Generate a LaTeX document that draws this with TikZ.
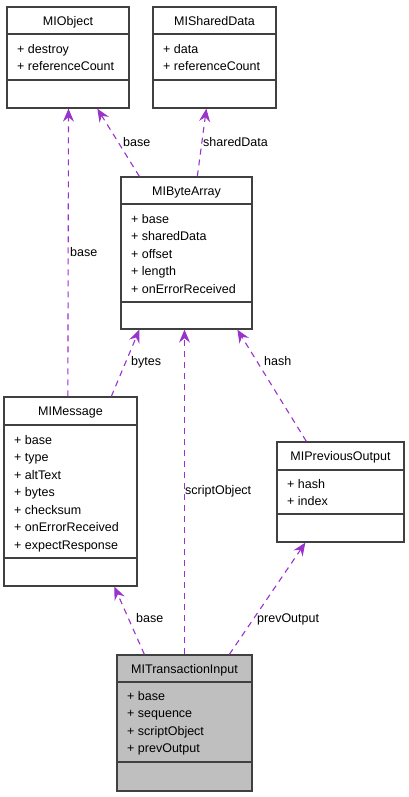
\documentclass[tikz,border=0pt]{standalone}
\usepackage{fontspec}
\setmainfont{Liberation Sans}
\usetikzlibrary{arrows.meta}
\definecolor{Edge}{HTML}{9A32CD}
\definecolor{Frame}{HTML}{404040}
\definecolor{Shade}{HTML}{BFBFBF}

\begin{document}
\begin{tikzpicture}[x=1pt,y=-1pt,every node/.style={font=\fontsize{12.5}{17.5}\selectfont,inner sep=0pt},classbox/.style={draw=Frame,line width=1.3pt,fill=white},divider/.style={draw=Frame,line width=1.3pt},title/.style={anchor=base},members/.style={anchor=north west,align=left},link/.style={draw=Edge,line width=1.1pt,dash pattern=on 6pt off 5pt,-{Stealth[length=13pt,width=11pt,inset=4.5pt,fill=Edge]}},lbl/.style={anchor=base west}]
\useasboundingbox[fill=white] (0,0) rectangle (409,797);
% class boxes
\node[classbox,minimum width=122pt,minimum height=101pt] (obj) at (68,57.5) {};
\node[title] (objT) at (68,25.5) {MIObject};
\draw[divider] (7,34)--(129,34) (7,80)--(129,80);
\node[members] (objM) at (17,40.75) {\strut+ destroy\\+ referenceCount};
\node[classbox,minimum width=123pt,minimum height=101pt] (shd) at (214.5,57.5) {};
\node[title] (shdT) at (214.5,25.5) {MISharedData};
\draw[divider] (153,34)--(276,34) (153,80)--(276,80);
\node[members] (shdM) at (163,40.75) {\strut+ data\\+ referenceCount};
\node[classbox,minimum width=131pt,minimum height=152pt] (bya) at (186.5,253) {};
\node[title] (byaT) at (186.5,195.5) {MIByteArray};
\draw[divider] (121,204)--(252,204) (121,302)--(252,302);
\node[members] (byaM) at (131,210.75) {\strut+ base\\+ sharedData\\+ offset\\+ length\\+ onErrorReceived};
\node[classbox,minimum width=133pt,minimum height=189pt] (msg) at (70.5,491.5) {};
\node[title] (msgT) at (70.5,415.5) {MIMessage};
\draw[divider] (4,425)--(137,425) (4,558)--(137,558);
\node[members] (msgM) at (14,431.75) {\strut+ base\\+ type\\+ altText\\+ bytes\\+ checksum\\+ onErrorReceived\\+ expectResponse};
\node[classbox,minimum width=127pt,minimum height=100pt] (prv) at (340.5,492) {};
\node[title] (prvT) at (340.5,460.5) {MIPreviousOutput};
\draw[divider] (277,470)--(404,470) (277,514)--(404,514);
\node[members] (prvM) at (287,475.75) {\strut+ hash\\+ index};
\node[classbox,fill=Shade,minimum width=135pt,minimum height=136pt] (tin) at (184.5,723) {};
\node[title] (tinT) at (184.5,673.5) {MITransactionInput};
\draw[divider] (117,682)--(252,682) (117,762)--(252,762);
\node[members] (tinM) at (127,687.75) {\strut+ base\\+ sequence\\+ scriptObject\\+ prevOutput};
% relations
\draw[link] ([xshift=19pt]bya.north west) -- ([xshift=91pt]obj.south west);
\node[lbl] (l1) at (123,146.5) {base};
\draw[link] ([xshift=77pt]bya.north west) -- ([xshift=54pt]shd.south west);
\node[lbl] (l2) at (203,146.5) {sharedData};
\draw[link] ([xshift=64.5pt]msg.north west) -- ([xshift=0.5pt]obj.south);
\node[lbl] (l3) at (70,256.5) {base};
\draw[link] ([xshift=108pt]msg.north west) -- ([xshift=19pt]bya.south west);
\node[lbl] (l4) at (131,365.5) {bytes};
\draw[link] ([xshift=30pt]prv.north west) -- ([xshift=117pt]bya.south west);
\node[lbl] (l5) at (264,365.5) {hash};
\draw[link] (tin.north) -- (tin.north |- bya.south);
\node[lbl] (l6) at (185,494.5) {scriptObject};
\draw[link] ([xshift=28pt]tin.north west) -- ([xshift=111pt]msg.south west);
\node[lbl] (l7) at (136,622.5) {base};
\draw[link] ([xshift=113pt]tin.north west) -- ([xshift=29pt]prv.south west);
\node[lbl] (l8) at (257,622.5) {prevOutput};
\end{tikzpicture}
\end{document}
